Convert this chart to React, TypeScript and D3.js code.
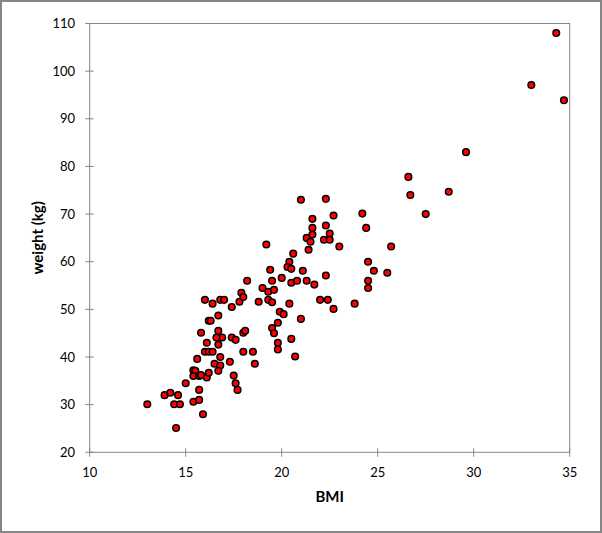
import { useEffect, useRef } from "react";
import * as d3 from "d3";

// BMI and weight of each subject
const bmi: number[] = [
  13.0, 13.9, 14.2, 14.6, 14.4, 14.7, 14.5, 15.0, 15.4, 15.7,
  15.7, 15.4, 15.5, 15.4, 15.6, 15.7, 15.8, 16.1, 16.2, 15.9,
  16.0, 16.2, 16.4, 16.8, 16.5, 16.8, 16.7, 17.3, 17.5, 17.6,
  17.7, 16.7, 16.9, 16.6, 16.7, 16.1, 15.8, 17.4, 17.6, 18.0,
  18.5, 18.6, 18.0, 18.1, 16.2, 16.3, 16.7, 16.0, 16.4, 16.8,
  17.0, 17.4, 17.8, 18.8, 17.9, 18.0, 18.2, 19.0, 19.3, 19.6,
  19.5, 19.3, 19.5, 19.9, 20.1, 19.8, 19.5, 19.6, 19.8, 19.8,
  20.5, 20.7, 20.4, 21.0, 20.0, 20.5, 20.8, 21.3, 21.7, 21.1,
  19.4, 20.4, 20.3, 20.5, 20.6, 19.2, 21.4, 21.3, 21.5, 21.6,
  21.6, 21.6, 22.3, 22.5, 22.2, 22.5, 22.7, 23.0, 22.3, 22.0,
  22.4, 22.7, 23.8, 21.0, 22.3, 24.2, 24.4, 24.5, 24.8, 24.5,
  24.5, 25.5, 25.7, 26.6, 26.7, 27.5, 28.7, 29.6, 33.0, 34.3,
  34.7,
];

const weight: number[] = [
  30.1, 32.0, 32.5, 32.0, 30.1, 30.1, 25.1, 34.5, 30.6, 31.0,
  33.1, 37.2, 37.1, 36.0, 39.6, 36.0, 36.2, 35.7, 36.7, 28.0,
  41.1, 41.1, 41.1, 40.0, 38.6, 38.2, 37.1, 39.0, 36.1, 34.5,
  33.1, 42.6, 44.1, 44.1, 45.5, 43.0, 45.1, 44.1, 43.6, 41.1,
  41.1, 38.6, 45.1, 45.5, 47.6, 47.6, 48.7, 52.0, 51.2, 52.0,
  52.0, 50.5, 51.6, 51.6, 53.5, 52.6, 56.0, 54.5, 53.7, 54.1,
  56.0, 52.0, 51.5, 49.5, 49.0, 47.2, 46.1, 45.0, 43.0, 41.6,
  43.8, 40.1, 51.2, 48.0, 56.6, 55.6, 56.0, 56.0, 55.2, 58.1,
  58.3, 60.0, 58.9, 58.5, 61.7, 63.6, 62.5, 65.0, 64.2, 65.7,
  67.1, 69.0, 67.6, 65.9, 64.6, 64.6, 69.7, 63.2, 57.1, 52.0,
  52.0, 50.1, 51.2, 73.0, 73.2, 70.1, 67.1, 60.0, 58.1, 56.0,
  54.5, 57.7, 63.2, 77.8, 74.0, 70.0, 74.7, 83.0, 97.1, 108.0,
  93.9,
];

const xTicks = [10, 15, 20, 25, 30, 35];
const yTicks = [20, 30, 40, 50, 60, 70, 80, 90, 100, 110];

export default function App() {
  const ref = useRef<SVGSVGElement>(null);

  useEffect(() => {
    const width = 602;
    const height = 533;
    const left = 89.7;
    const right = 569.7;
    const top = 23.5;
    const bottom = 452.3;
    const grey = "#868686";
    const font = "Lato, 'Open Sans', sans-serif";

    const svg = d3.select(ref.current);
    svg.selectAll("*").remove();

    // outer frame
    svg
      .append("rect")
      .attr("x", 1)
      .attr("y", 1)
      .attr("width", width - 2)
      .attr("height", height - 2)
      .attr("fill", "white")
      .attr("stroke", grey)
      .attr("stroke-width", 2);

    const x = d3.scaleLinear().domain([10, 35]).range([left, right]);
    const y = d3.scaleLinear().domain([20, 110]).range([bottom, top]);

    // plot area border
    svg
      .append("rect")
      .attr("x", left)
      .attr("y", top)
      .attr("width", right - left)
      .attr("height", bottom - top)
      .attr("fill", "none")
      .attr("stroke", grey)
      .attr("stroke-width", 1);

    // y ticks and labels
    const yg = svg.append("g");
    yg.selectAll("line")
      .data(yTicks)
      .enter()
      .append("line")
      .attr("x1", left - 4.5)
      .attr("x2", left + 4)
      .attr("y1", (d) => y(d))
      .attr("y2", (d) => y(d))
      .attr("stroke", grey);
    yg.selectAll("text")
      .data(yTicks)
      .enter()
      .append("text")
      .attr("x", 75)
      .attr("y", (d) => y(d))
      .attr("dy", "0.35em")
      .attr("text-anchor", "end")
      .attr("font-family", font)
      .attr("font-size", "13px")
      .attr("fill", "#000")
      .text((d) => String(d));

    // x ticks and labels
    const xg = svg.append("g");
    xg.selectAll("line")
      .data(xTicks)
      .enter()
      .append("line")
      .attr("x1", (d) => x(d))
      .attr("x2", (d) => x(d))
      .attr("y1", bottom - 4)
      .attr("y2", bottom + 4.5)
      .attr("stroke", grey);
    xg.selectAll("text")
      .data(xTicks)
      .enter()
      .append("text")
      .attr("x", (d) => x(d))
      .attr("y", 476.5)
      .attr("text-anchor", "middle")
      .attr("font-family", font)
      .attr("font-size", "13px")
      .attr("fill", "#000")
      .text((d) => String(d));

    // axis titles
    svg
      .append("text")
      .attr("x", (left + right) / 2)
      .attr("y", 502)
      .attr("text-anchor", "middle")
      .attr("font-family", font)
      .attr("font-weight", "bold")
      .attr("font-size", "15px")
      .text("BMI");

    svg
      .append("text")
      .attr("transform", "translate(43," + (top + bottom) / 2 + ") rotate(-90)")
      .attr("text-anchor", "middle")
      .attr("font-family", font)
      .attr("font-weight", "bold")
      .attr("font-size", "15px")
      .text("weight (kg)");

    // points
    svg
      .append("g")
      .selectAll("circle")
      .data(d3.range(bmi.length))
      .enter()
      .append("circle")
      .attr("cx", (i) => x(bmi[i]))
      .attr("cy", (i) => y(weight[i]))
      .attr("r", 3.3)
      .attr("fill", "#ff0000")
      .attr("stroke", "#000")
      .attr("stroke-width", 1.5);
  }, []);

  return (
    <div style={{ position: "absolute", left: 0, top: 0 }}>
      <svg ref={ref} width={602} height={533} style={{ display: "block" }} />
    </div>
  );
}
